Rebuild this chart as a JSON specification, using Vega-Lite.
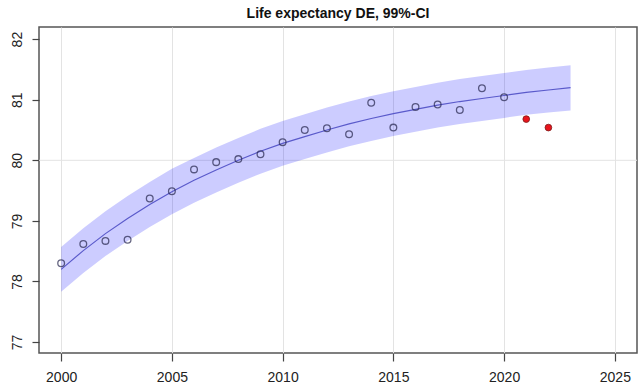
{
  "$schema": "https://vega.github.io/schema/vega-lite/v6.json",
  "width": 598,
  "height": 326,
  "autosize": {"type": "none"},
  "padding": {"left": 39, "top": 27, "right": 5, "bottom": 37},
  "background": "white",
  "config": {
    "font": "Liberation Sans",
    "view": {"stroke": "#555555", "strokeWidth": 1.5},
    "axis": {"domain": false, "labelFont": "Liberation Sans", "labelFontSize": 14, "labelColor": "#222222", "tickColor": "#444444", "tickWidth": 1.2}
  },
  "title": {"text": "Life expectancy DE, 99%-CI", "fontSize": 14, "fontWeight": "bold", "color": "#111111", "anchor": "middle", "frame": "group", "baseline": "bottom", "offset": 8, "dy": 16},
  "datasets": {
    "obs": [
      {"year": 2000, "le": 78.30}, {"year": 2001, "le": 78.62}, {"year": 2002, "le": 78.67},
      {"year": 2003, "le": 78.69}, {"year": 2004, "le": 79.37}, {"year": 2005, "le": 79.49},
      {"year": 2006, "le": 79.85}, {"year": 2007, "le": 79.97}, {"year": 2008, "le": 80.02},
      {"year": 2009, "le": 80.10}, {"year": 2010, "le": 80.30}, {"year": 2011, "le": 80.50},
      {"year": 2012, "le": 80.53}, {"year": 2013, "le": 80.43}, {"year": 2014, "le": 80.95},
      {"year": 2015, "le": 80.54}, {"year": 2016, "le": 80.88}, {"year": 2017, "le": 80.92},
      {"year": 2018, "le": 80.83}, {"year": 2019, "le": 81.19}, {"year": 2020, "le": 81.04}
    ],
    "new": [{"year": 2021, "le": 80.68}, {"year": 2022, "le": 80.54}],
    "fit": [
      {"year": 2000, "fit": 78.20, "lo": 77.83, "hi": 78.57},
      {"year": 2001, "fit": 78.51, "lo": 78.14, "hi": 78.88},
      {"year": 2002, "fit": 78.79, "lo": 78.42, "hi": 79.16},
      {"year": 2003, "fit": 79.04, "lo": 78.67, "hi": 79.41},
      {"year": 2004, "fit": 79.27, "lo": 78.90, "hi": 79.64},
      {"year": 2005, "fit": 79.48, "lo": 79.11, "hi": 79.86},
      {"year": 2006, "fit": 79.67, "lo": 79.30, "hi": 80.04},
      {"year": 2007, "fit": 79.84, "lo": 79.47, "hi": 80.21},
      {"year": 2008, "fit": 80.00, "lo": 79.63, "hi": 80.37},
      {"year": 2009, "fit": 80.15, "lo": 79.78, "hi": 80.52},
      {"year": 2010, "fit": 80.28, "lo": 79.91, "hi": 80.65},
      {"year": 2011, "fit": 80.39, "lo": 80.02, "hi": 80.76},
      {"year": 2012, "fit": 80.50, "lo": 80.13, "hi": 80.87},
      {"year": 2013, "fit": 80.60, "lo": 80.23, "hi": 80.97},
      {"year": 2014, "fit": 80.69, "lo": 80.32, "hi": 81.06},
      {"year": 2015, "fit": 80.77, "lo": 80.40, "hi": 81.14},
      {"year": 2016, "fit": 80.84, "lo": 80.47, "hi": 81.21},
      {"year": 2017, "fit": 80.91, "lo": 80.54, "hi": 81.28},
      {"year": 2018, "fit": 80.97, "lo": 80.60, "hi": 81.34},
      {"year": 2019, "fit": 81.02, "lo": 80.65, "hi": 81.39},
      {"year": 2020, "fit": 81.07, "lo": 80.70, "hi": 81.44},
      {"year": 2021, "fit": 81.12, "lo": 80.75, "hi": 81.49},
      {"year": 2022, "fit": 81.16, "lo": 80.79, "hi": 81.53},
      {"year": 2023, "fit": 81.20, "lo": 80.82, "hi": 81.57}
    ],
    "hline": [{"y": 80}]
  },
  "layer": [
    {
      "data": {"name": "hline"},
      "mark": {"type": "rule", "color": "#e3e3e3", "strokeWidth": 1},
      "encoding": {
        "y": {"field": "y", "type": "quantitative", "scale": {"domain": [76.82, 82.2], "nice": false, "zero": false},
              "axis": {"values": [77, 78, 79, 80, 81, 82], "format": "d", "title": null, "grid": false, "labelAngle": -90, "labelAlign": "center", "labelBaseline": "bottom", "tickSize": 7, "labelPadding": 8}}
      }
    },
    {
      "data": {"name": "fit"},
      "mark": {"type": "area", "fill": "#0000ff", "fillOpacity": 0.2},
      "encoding": {
        "x": {"field": "year", "type": "quantitative", "scale": {"domain": [1999.0, 2026.0], "nice": false, "zero": false},
              "axis": {"values": [2000, 2005, 2010, 2015, 2020, 2025], "title": null, "grid": true, "gridColor": "#e3e3e3", "gridWidth": 1, "tickSize": 8, "labelPadding": 9, "format": "d"}},
        "y": {"field": "lo", "type": "quantitative"},
        "y2": {"field": "hi"}
      }
    },
    {
      "data": {"name": "fit"},
      "mark": {"type": "line", "color": "#5a5acb", "strokeWidth": 1.2},
      "encoding": {
        "x": {"field": "year", "type": "quantitative"},
        "y": {"field": "fit", "type": "quantitative"}
      }
    },
    {
      "data": {"name": "obs"},
      "mark": {"type": "point", "shape": "circle", "filled": false, "stroke": "#25254d", "strokeWidth": 1.3, "size": 45},
      "encoding": {
        "x": {"field": "year", "type": "quantitative"},
        "y": {"field": "le", "type": "quantitative"}
      }
    },
    {
      "data": {"name": "new"},
      "mark": {"type": "point", "shape": "circle", "filled": true, "fill": "#e8141c", "fillOpacity": 1, "stroke": "#7a1a1a", "strokeWidth": 0.8, "size": 45},
      "encoding": {
        "x": {"field": "year", "type": "quantitative"},
        "y": {"field": "le", "type": "quantitative"}
      }
    }
  ]
}
